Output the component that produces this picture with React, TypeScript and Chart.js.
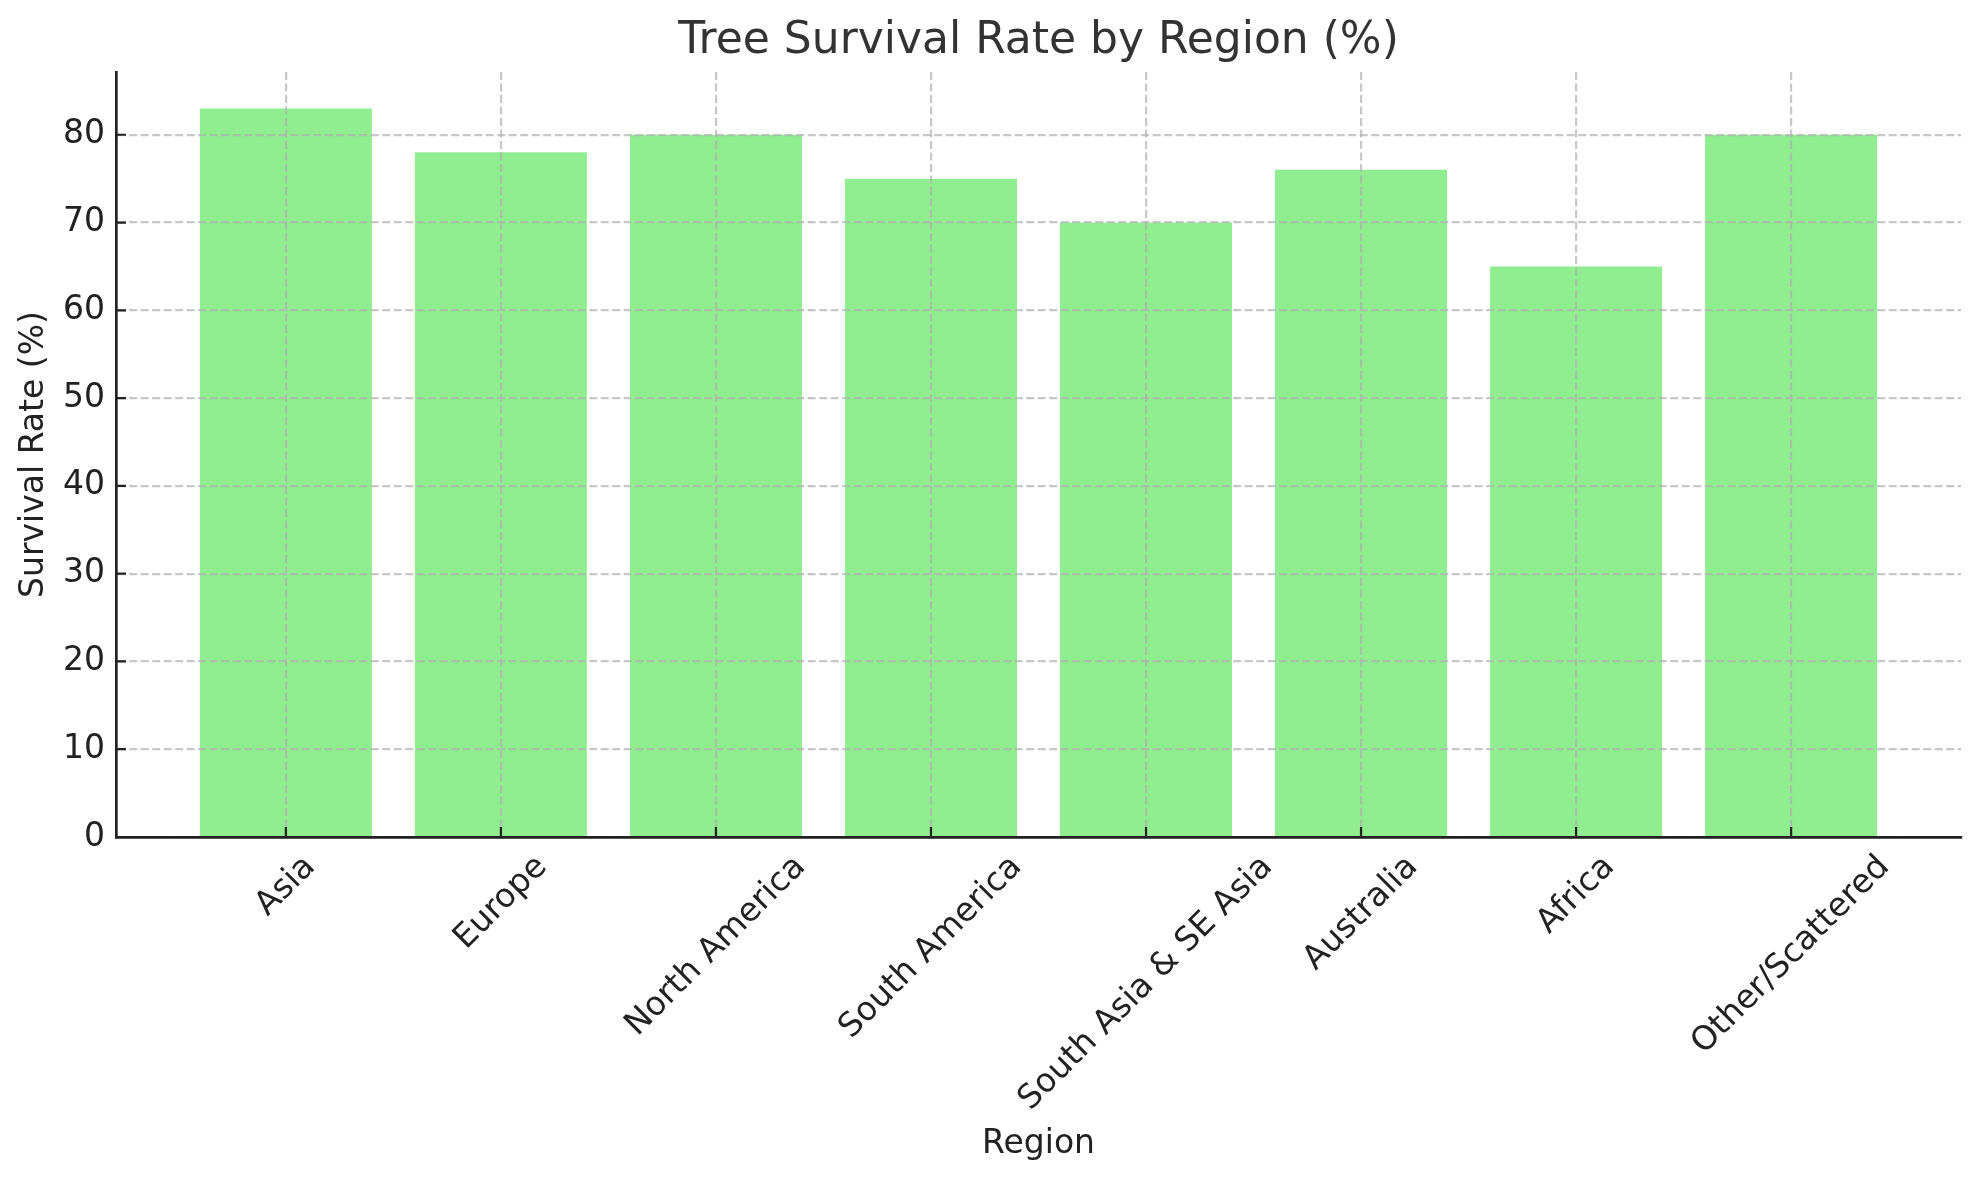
import React, { useEffect, useRef } from "react";
import { Chart, registerables } from "chart.js";

Chart.register(...registerables);

const categories = [
  "Asia",
  "Europe",
  "North America",
  "South America",
  "South Asia & SE Asia",
  "Australia",
  "Africa",
  "Other/Scattered",
];
const survivalRates = [83, 78, 80, 75, 70, 76, 65, 80];
const yTickValues = [0, 10, 20, 30, 40, 50, 60, 70, 80];
const chartTitle = "Tree Survival Rate by Region (%)";
const xAxisTitle = "Region";
const yAxisTitle = "Survival Rate (%)";

const FAMILY = "'DejaVu Sans', 'Liberation Sans', sans-serif";
const GRID_COLOR = "rgba(176,176,176,0.7)";
const AXIS_COLOR = "#222222";
const TEXT_COLOR = "#222222";

export default function App() {
  const canvasRef = useRef<HTMLCanvasElement>(null);

  useEffect(() => {
    document.body.style.margin = "0";
    document.body.style.overflow = "hidden";
    const canvas = canvasRef.current;
    if (!canvas) return;

    const textPlugin = {
      id: "mplText",
      afterDraw(chart: any) {
        const { ctx, chartArea: a, scales } = chart;
        const xs = scales.x;
        const ys = scales.y;
        ctx.save();
        // inward tick marks
        ctx.strokeStyle = AXIS_COLOR;
        ctx.lineWidth = 2.2;
        ctx.setLineDash([]);
        ctx.beginPath();
        categories.forEach((_, i) => {
          const px = xs.getPixelForValue(i);
          ctx.moveTo(px, a.bottom);
          ctx.lineTo(px, a.bottom - 10);
        });
        yTickValues.forEach((v) => {
          const py = ys.getPixelForValue(v);
          ctx.moveTo(a.left, py);
          ctx.lineTo(a.left + 10, py);
        });
        ctx.stroke();

        // title
        ctx.fillStyle = "#333333";
        ctx.font = `44px ${FAMILY}`;
        ctx.textAlign = "center";
        ctx.textBaseline = "alphabetic";
        ctx.fillText(chartTitle, (a.left + a.right) / 2, 53);

        // x tick labels rotated 45°, centred on tick
        ctx.fillStyle = TEXT_COLOR;
        ctx.font = `33px ${FAMILY}`;
        const h = 39;
        categories.forEach((label, i) => {
          const px = xs.getPixelForValue(i);
          const w = ctx.measureText(label).width;
          const d = (w + h) * Math.SQRT1_2;
          const cy = a.bottom + 11 + d / 2;
          ctx.save();
          ctx.translate(px, cy);
          ctx.rotate(-Math.PI / 4);
          ctx.textAlign = "center";
          ctx.textBaseline = "middle";
          ctx.fillText(label, 0, 0);
          ctx.restore();
        });

        // x axis title
        ctx.textAlign = "center";
        ctx.textBaseline = "alphabetic";
        ctx.fillText(xAxisTitle, (a.left + a.right) / 2, 1153);

        // y axis title
        ctx.save();
        ctx.translate(43, (a.top + a.bottom) / 2);
        ctx.rotate(-Math.PI / 2);
        ctx.textAlign = "center";
        ctx.textBaseline = "alphabetic";
        ctx.fillText(yAxisTitle, 0, 0);
        ctx.restore();

        ctx.restore();
      },
    };

    const chart = new Chart(canvas, {
      type: "bar",
      data: {
        datasets: [
          {
            data: categories.map((_, i) => ({ x: i, y: survivalRates[i] })),
            backgroundColor: "#90EE90",
            borderWidth: 0,
            barPercentage: 0.8,
            categoryPercentage: 1,
          },
        ],
      },
      options: {
        responsive: false,
        animation: false,
        devicePixelRatio: 1,
        layout: { padding: { top: 72, right: 18, bottom: 0, left: 0 } },
        plugins: {
          legend: { display: false },
          tooltip: { enabled: false },
          title: { display: false },
        },
        scales: {
          x: {
            type: "linear",
            min: -0.79,
            max: 7.79,
            offset: false,
            afterBuildTicks: (s: any) => {
              s.ticks = categories.map((_, i) => ({ value: i }));
            },
            afterFit: (s: any) => {
              s.height = 343;
            },
            ticks: { display: false },
            grid: {
              offset: false,
              color: GRID_COLOR,
              lineWidth: 2.2,
              drawTicks: false,
              z: 1,
            },
            border: {
              display: true,
              color: AXIS_COLOR,
              width: 2.7,
              dash: [8, 3.5],
              z: 2,
            },
          },
          y: {
            type: "linear",
            min: 0,
            max: 87.15,
            afterBuildTicks: (s: any) => {
              s.ticks = yTickValues.map((v) => ({ value: v }));
            },
            afterFit: (s: any) => {
              s.width = 116;
            },
            ticks: {
              font: { family: FAMILY, size: 33 },
              color: TEXT_COLOR,
              padding: 11,
            },
            grid: {
              color: GRID_COLOR,
              lineWidth: 2.2,
              drawTicks: false,
              z: 1,
            },
            border: {
              display: true,
              color: AXIS_COLOR,
              width: 2.7,
              dash: [8, 3.5],
              z: 2,
            },
          },
        },
      },
      plugins: [textPlugin],
    } as any);

    return () => chart.destroy();
  }, []);

  return (
    <div style={{ width: 1979, height: 1180, background: "#fff" }}>
      <canvas ref={canvasRef} width={1979} height={1180} style={{ display: "block" }} />
    </div>
  );
}
